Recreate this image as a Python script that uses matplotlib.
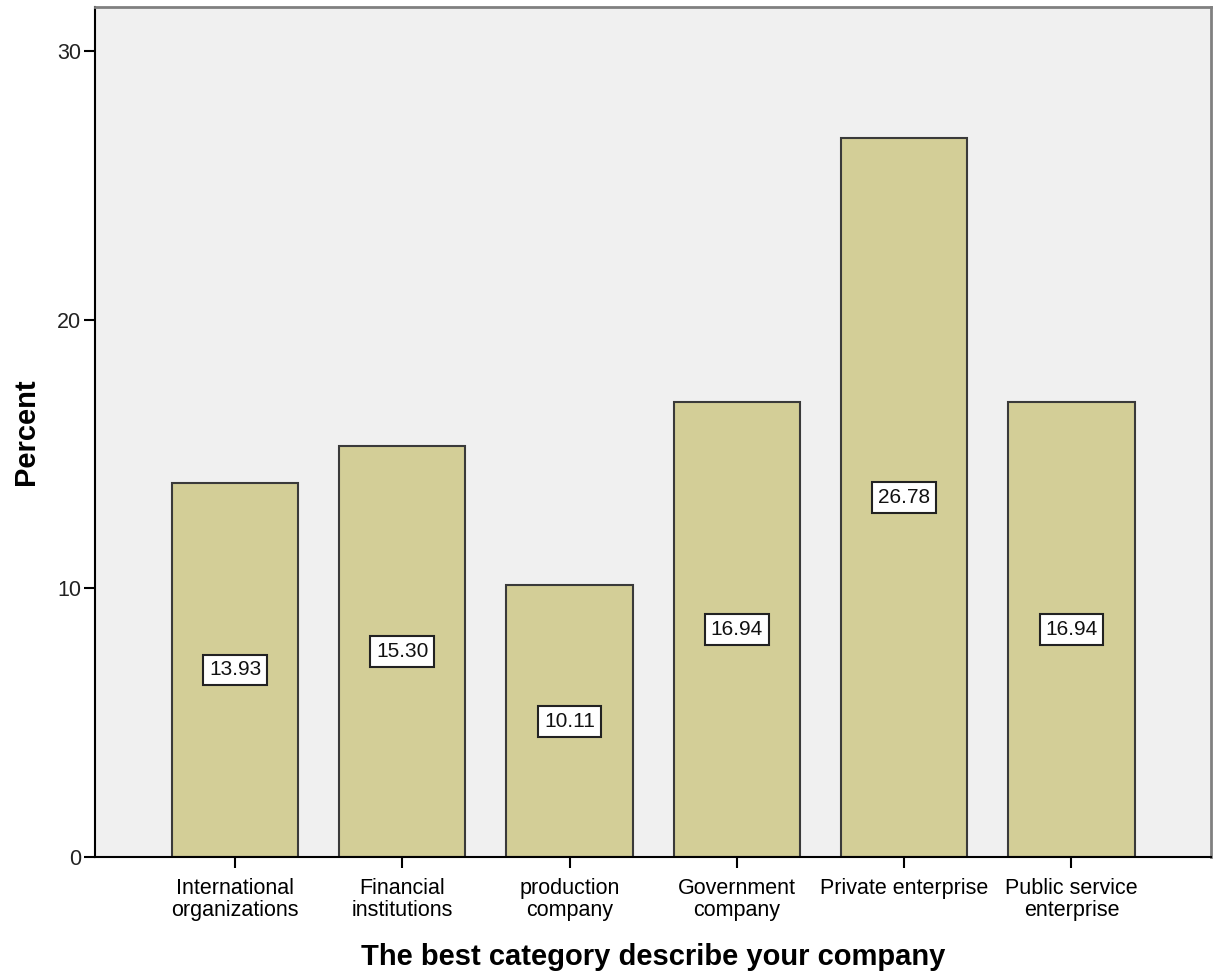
import matplotlib
matplotlib.use("Agg")
import matplotlib.pyplot as plt

categories = ["International\norganizations", "Financial\ninstitutions", "production\ncompany",
              "Government\ncompany", "Private enterprise", "Public service\nenterprise"]
values = [13.93, 15.30, 10.11, 16.94, 26.78, 16.94]
yticks = [0, 10, 20, 30]

plt.rcParams['font.family'] = ['Liberation Sans', 'DejaVu Sans']

fig = plt.figure(figsize=(12.16, 9.72), dpi=100)
ax = fig.add_axes([95/1216, (972-857)/972, (1211-95)/1216, (857-7)/972])
ax.set_facecolor('#F0F0F0')

x = list(range(len(categories)))
ax.bar(x, values, width=0.755, color='#D3CE97', edgecolor='#3a3a3a', linewidth=1.5, zorder=2)

for xi, v in zip(x, values):
    ax.text(xi, v/2, f"{v:.2f}", ha='center', va='center', fontsize=15, color='#111111', zorder=3,
            bbox=dict(boxstyle='square,pad=0.28', facecolor='white', edgecolor='#222222', linewidth=1.5))

ax.set_xlim(-0.837, 5.834)
ax.set_ylim(0, 31.64)
ax.set_yticks(yticks)
ax.set_yticklabels([str(t) for t in yticks])
ax.set_xticks(x)
ax.set_xticklabels(categories, linespacing=1.08)
ax.tick_params(axis='both', direction='out', length=8, width=1.5, labelsize=15.5, colors='black', pad=3)
ax.tick_params(axis='x', pad=7)
ax.tick_params(axis='y', labelcolor='#222222', pad=2)

for s in ['left', 'bottom']:
    ax.spines[s].set_color('black')
    ax.spines[s].set_linewidth(1.5)
for s in ['top', 'right']:
    ax.spines[s].set_color('#808080')
    ax.spines[s].set_linewidth(2)

ax.set_ylabel('Percent', fontsize=21, fontweight='bold', labelpad=12)
ax.set_xlabel('The best category describe your company', fontsize=21, fontweight='bold', labelpad=16)

fig.savefig('out.png', dpi=100)
